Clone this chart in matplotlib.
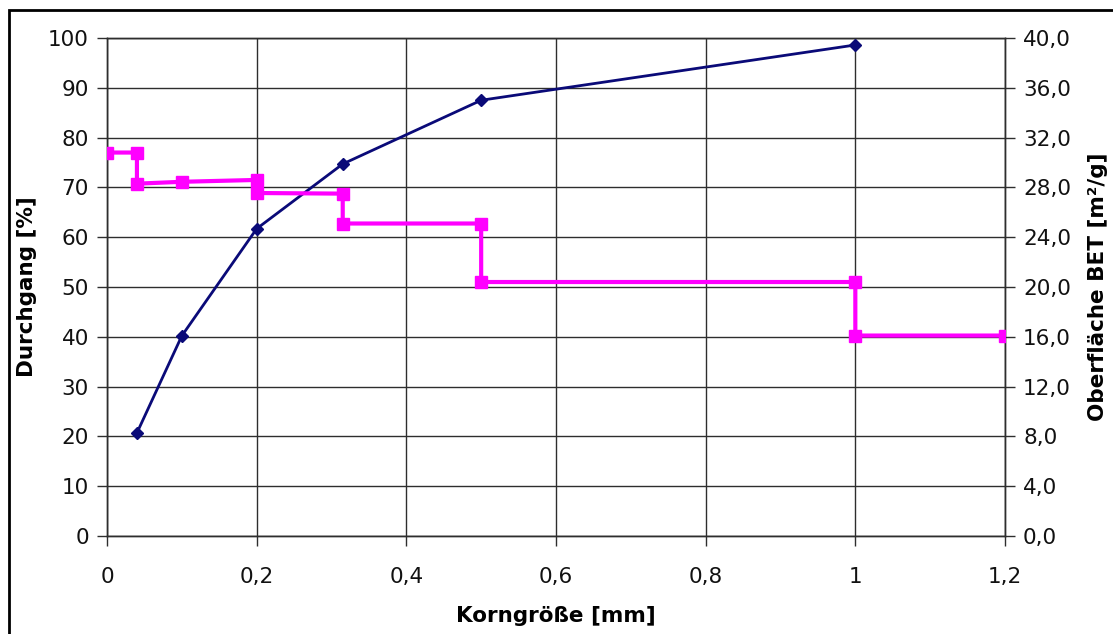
import matplotlib.pyplot as plt
from matplotlib.patches import Rectangle
from matplotlib.ticker import FuncFormatter

# Durchgang (Siebkurve)
korn = [0.04, 0.1, 0.2, 0.315, 0.5, 1.0]
durchgang = [20.7, 40.2, 61.7, 74.7, 87.5, 98.6]

# BET-Oberflaeche, Treppenverlauf
bet_x = [0.0, 0.04, 0.04, 0.1, 0.2, 0.2, 0.315, 0.315, 0.5, 0.5, 1.0, 1.0, 1.2]
bet_y = [30.8, 30.8, 28.3, 28.45, 28.6, 27.55, 27.5, 25.1, 25.1, 20.4, 20.4, 16.1, 16.1]

x_ticks = [0, 0.2, 0.4, 0.6, 0.8, 1.0, 1.2]
x_labels = ['0', '0,2', '0,4', '0,6', '0,8', '1', '1,2']

plt.rcParams['font.family'] = 'DejaVu Sans'
fig = plt.figure(figsize=(11.13, 6.34), dpi=100)
ax = fig.add_axes([107 / 1113, 1 - 536 / 634, (1005 - 107) / 1113, (536 - 38) / 634])
ax2 = ax.twinx()

gc = '#2e2e2e'
ax.plot(korn, durchgang, color='#0a0a78', lw=2, marker='D', ms=6.5, zorder=3)
ax2.plot(bet_x, bet_y, color='#ff00ff', lw=3, marker='s', ms=9, zorder=3)

ax.set_xlim(0, 1.2)
ax.set_ylim(0, 100)
ax2.set_ylim(0, 40)
ax.set_xticks(x_ticks)
ax.set_xticklabels(x_labels)
ax.set_yticks(range(0, 101, 10))
ax2.set_yticks([i * 4 for i in range(11)])
ax2.yaxis.set_major_formatter(FuncFormatter(lambda v, p: ('%.1f' % v).replace('.', ',')))

ax.grid(True, color=gc, lw=1.0)
for a in (ax, ax2):
    for s in a.spines.values():
        s.set_color(gc)
        s.set_linewidth(1.0)
    a.tick_params(colors=gc, labelcolor='#111111', labelsize=15.5, length=7, width=1.0, direction='out')
ax.tick_params(axis='x', pad=15)
ax.tick_params(axis='y', pad=6)
ax2.tick_params(axis='y', pad=6)

ax.set_xlabel('Korngröße [mm]', fontsize=15.5, fontweight='bold', labelpad=14)
ax.set_ylabel('Durchgang [%]', fontsize=15.5, fontweight='bold', labelpad=8)
ax2.set_ylabel('Oberfläche BET [m²/g]', fontsize=15.5, fontweight='bold', labelpad=12)

# Rahmen um das Diagramm (nur links/oben sichtbar)
fig.patches.append(Rectangle((9 / 1113, -0.1), 1.2, 1 - 10 / 634 + 0.1,
                             transform=fig.transFigure, fill=False,
                             edgecolor='black', lw=2))

fig.savefig('out.png', dpi=100)
